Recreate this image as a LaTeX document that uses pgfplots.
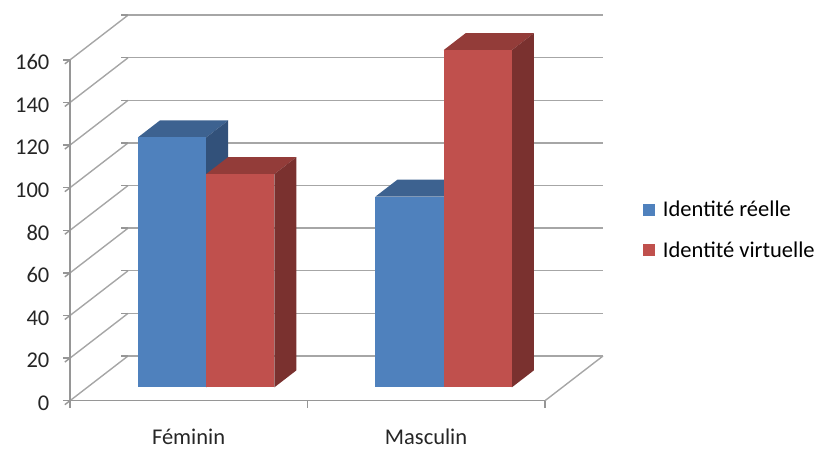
\documentclass[border=0pt]{standalone}
\usepackage{pgfplots}
\pgfplotsset{compat=1.18}
\usepackage{fontspec}
\setmainfont{Carlito}
\definecolor{gridc}{HTML}{A6A6A6}
\definecolor{axisc}{HTML}{969696}
\definecolor{bf}{HTML}{4F81BD}
\definecolor{bt}{HTML}{3D6290}
\definecolor{bs}{HTML}{32517A}
\definecolor{rf}{HTML}{C0504D}
\definecolor{rt}{HTML}{933C39}
\definecolor{rs}{HTML}{7A312F}
\begin{document}
\begin{tikzpicture}[x=1pt,y=1pt]
\path[use as bounding box] (-70,-48.3) rectangle (747,400.7);
\begin{axis}[
  at={(0,0)}, anchor=origin,
  x={(237.5pt,0pt)}, y={(58pt,44.7pt)}, z={(0pt,2.13pt)},
  xmin=0,xmax=2,ymin=0,ymax=1,zmin=0,zmax=160,
  clip=false,
  axis line style={draw=none},
  ztick={0,20,...,160},
  xtick={0.5,1.5}, xticklabels={Féminin,Masculin},
  ytick=\empty,
  xtick pos=lower, ztick pos=left,
  tick align=outside,
  major z tick style={draw=axisc,line width=1.4pt},
  major x tick style={draw=none},
  major tick length=6.5pt,
  zmajorgrids=true,
  grid style={draw=gridc,line width=1.4pt},
  /pgf/number format/assume math mode=true,
  tick label style={font=\fontsize{22.5}{24}\selectfont,text=black!85},
  zticklabel style={anchor=east,xshift=-12pt,yshift=1.5pt},
  xticklabel style={anchor=north,text height=16pt,text depth=0pt,xshift=5pt,yshift=-20.5pt},
  legend style={draw=none,fill=none,at={(1.069,0.443)},anchor=west,
    font=\fontsize{22.5}{24}\selectfont,row sep=19pt},
  legend cell align=left,
  legend image code/.code={\fill[#1,draw=none] (0pt,-6pt) rectangle (12pt,6pt);\path (0pt,0pt) (18pt,0pt);},
]
% floor and axis edges
\addplot3[forget plot,draw=gridc,line width=1.4pt] coordinates {(2,0,0)(2,1,0)};
\addplot3[forget plot,draw=axisc,line width=1.4pt] coordinates {(0,0,160)(0,0,0)(2,0,0)};
% category separators below the front edge
\addplot3[forget plot,draw=axisc,line width=1.4pt] coordinates {(0,0,0)(0,0,-3.3)};
\addplot3[forget plot,draw=axisc,line width=1.4pt] coordinates {(1,0,0)(1,0,-3.3)};
\addplot3[forget plot,draw=axisc,line width=1.4pt] coordinates {(2,0,0)(2,0,-3.3)};
% Féminin, Identité réelle
\addplot3[forget plot,fill=bt,draw=none] coordinates {(0.2125,0.3,117.3)(0.5,0.3,117.3)(0.5,0.68,117.3)(0.2125,0.68,117.3)};
\addplot3[forget plot,fill=bs,draw=none] coordinates {(0.5,0.3,0)(0.5,0.68,0)(0.5,0.68,117.3)(0.5,0.3,117.3)};
\addplot3[fill=bf,draw=none] coordinates {(0.2125,0.3,0)(0.5,0.3,0)(0.5,0.3,117.3)(0.2125,0.3,117.3)};
\addlegendentry{Identité réelle}
% Féminin, Identité virtuelle
\addplot3[forget plot,fill=rt,draw=none] coordinates {(0.5,0.3,100.1)(0.7875,0.3,100.1)(0.7875,0.68,100.1)(0.5,0.68,100.1)};
\addplot3[forget plot,fill=rs,draw=none] coordinates {(0.7875,0.3,0)(0.7875,0.68,0)(0.7875,0.68,100.1)(0.7875,0.3,100.1)};
\addplot3[fill=rf,draw=none] coordinates {(0.5,0.3,0)(0.7875,0.3,0)(0.7875,0.3,100.1)(0.5,0.3,100.1)};
\addlegendentry{Identité virtuelle}
% Masculin, Identité réelle
\addplot3[forget plot,fill=bt,draw=none] coordinates {(1.2125,0.3,89.5)(1.5,0.3,89.5)(1.5,0.68,89.5)(1.2125,0.68,89.5)};
\addplot3[forget plot,fill=bf,draw=none] coordinates {(1.2125,0.3,0)(1.5,0.3,0)(1.5,0.3,89.5)(1.2125,0.3,89.5)};
% Masculin, Identité virtuelle
\addplot3[forget plot,fill=rt,draw=none] coordinates {(1.5,0.3,158.3)(1.7875,0.3,158.3)(1.7875,0.68,158.3)(1.5,0.68,158.3)};
\addplot3[forget plot,fill=rs,draw=none] coordinates {(1.7875,0.3,0)(1.7875,0.68,0)(1.7875,0.68,158.3)(1.7875,0.3,158.3)};
\addplot3[forget plot,fill=rf,draw=none] coordinates {(1.5,0.3,0)(1.7875,0.3,0)(1.7875,0.3,158.3)(1.5,0.3,158.3)};
\end{axis}
\end{tikzpicture}
\end{document}
